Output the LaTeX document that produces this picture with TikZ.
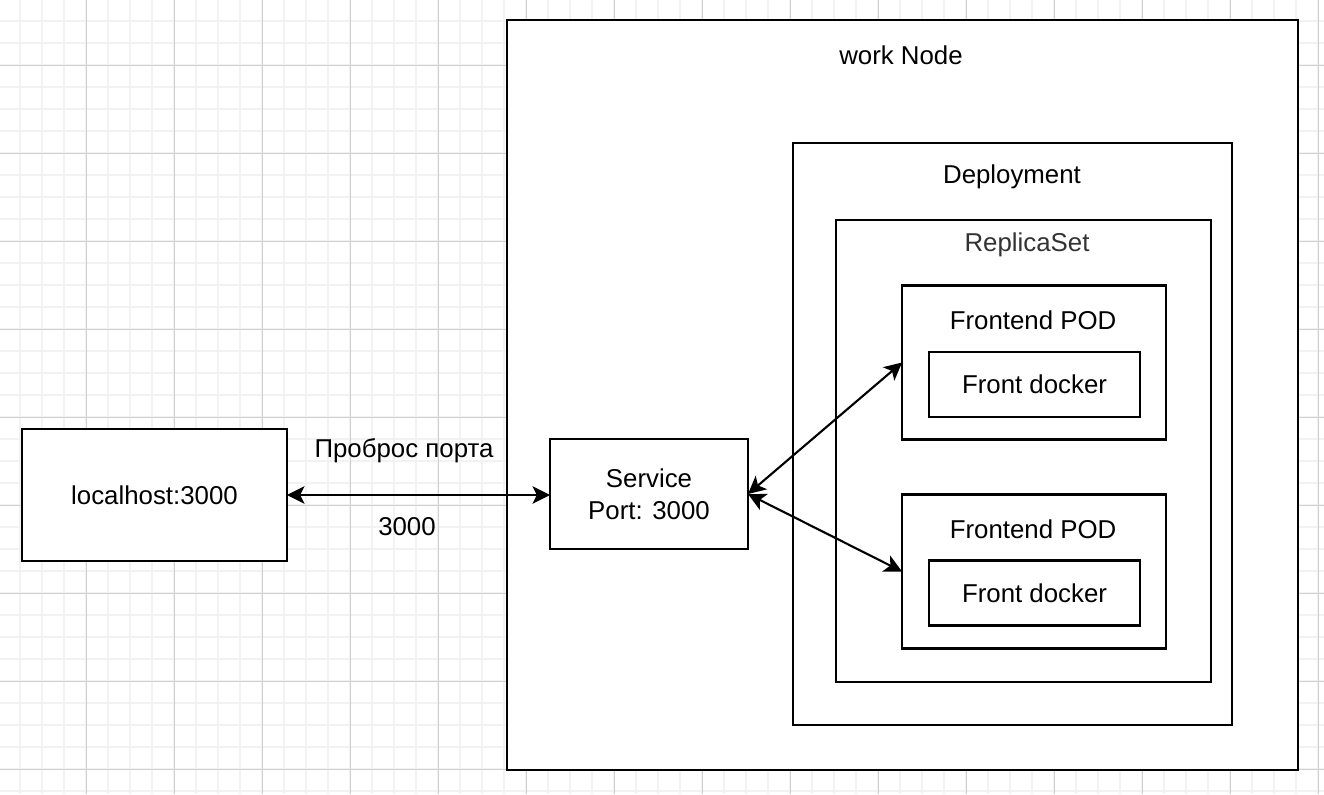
\documentclass[tikz,border=0pt]{standalone}
\usepackage{fontspec}
\setmainfont{Liberation Sans}
\usetikzlibrary{arrows.meta, positioning}
\definecolor{cGridMinor}{RGB}{242,242,242}
\definecolor{cGridMajor}{RGB}{208,208,208}
\definecolor{cLabelGray}{RGB}{51,51,51}
\tikzset{
	box/.style={rectangle, draw=black, line width=1.2pt, fill=white, inner sep=0pt, outer sep=0pt, text centered, align=center},
	boxlabel/.style={font=\fontsize{14.7}{18.1}\selectfont, inner sep=0pt},
	biarrow/.style={{Stealth[length=10pt, width=10pt, inset=2.5pt]}-{Stealth[length=10pt, width=10pt, inset=2.5pt]}, line width=1.2pt},
	% background grid
	minorline/.style={draw=cGridMinor, line width=1pt},
	majorline/.style={draw=cGridMajor, line width=0.5pt},
}

\begin{document}
\begin{tikzpicture}[x=0.02cm, y=-0.02cm, font=\fontsize{14.7}{18.1}\selectfont]
			\useasboundingbox (0,0) rectangle (1324,794);
			\fill[white] (0,0) rectangle (1324,794);
			% grid
			\foreach \gx in {0,...,59} {
				\draw[minorline] (20+\gx*22,0) -- (20+\gx*22,794);
			}
			\foreach \gy in {0,...,35} {
				\draw[minorline] (0,21+\gy*22) -- (1324,21+\gy*22);
			}
			\foreach \gx in {0,...,14} {
				\draw[majorline] (86+\gx*88,0) -- (86+\gx*88,794);
			}
			\foreach \gy in {0,...,8} {
				\draw[majorline] (0,65+\gy*88) -- (1324,65+\gy*88);
			}
			% containers
			\node[box, minimum width=15.82cm, minimum height=15.0cm] (worknode) at (902.5,395) {};
			\node[boxlabel] (worknodeLbl) at (901,55) {work Node};
			\node[box, minimum width=8.78cm, minimum height=11.64cm] (deploy) at (1012.5,434) {};
			\node[boxlabel] (deployLbl) at (1012,177) {Deployment};
			\node[box, minimum width=7.5cm, minimum height=9.24cm] (rset) at (1023.5,451) {};
			\node[boxlabel, text=cLabelGray] (rsetLbl) at (1027,245) {ReplicaSet};
			% pods
			\foreach \idx/\py/\dy in {1/362.5/384.5, 2/571.5/593} {
				\node[box, minimum width=5.28cm, minimum height=3.08cm] (pod\idx) at (1034,\py) {};
				\node[boxlabel] (podLbl\idx) at (1033,\py-42) {Frontend POD};
				\node[box, minimum width=4.22cm, minimum height=1.3cm] (docker\idx) at (1034.5,\dy) {Front docker};
			}
			% outside
			\node[box, minimum width=5.3cm, minimum height=2.64cm] (localhost) at (154.5,495) {localhost:3000};
			\node[box, minimum width=3.96cm, minimum height=2.2cm] (service) at (649,494) {Service\\Port: 3000};
			\node[boxlabel] (fwdLbl) at (404,451) {Проброс порта};
			\node[boxlabel] (portLbl) at (407,527) {3000};
			% connectors
			\draw[biarrow] (localhost.east) -- (service.west |- localhost.east);
			\draw[biarrow] (service.east) -- (pod1.west);
			\draw[biarrow] (service.east) -- (pod2.west);
		\end{tikzpicture}
\end{document}
